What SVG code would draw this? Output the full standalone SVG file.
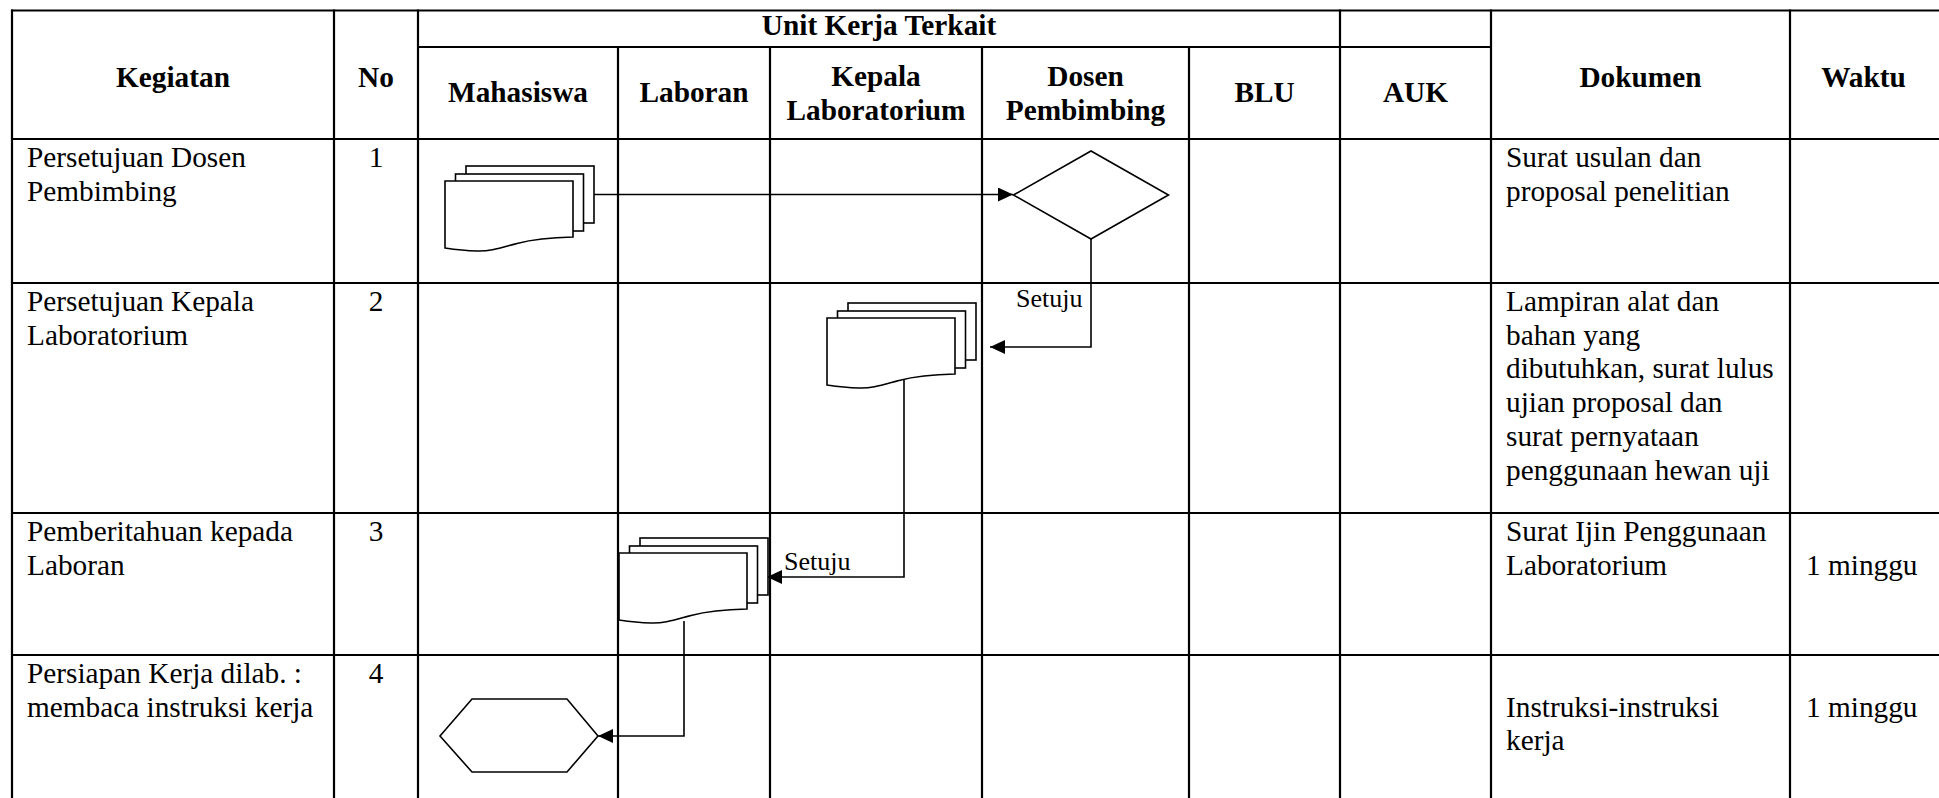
<svg xmlns="http://www.w3.org/2000/svg" width="1939" height="798" viewBox="0 0 1939 798">
  <style>
    .grid { stroke: #000; stroke-width: 2.2; fill: none; }
    .shape { stroke: #000; stroke-width: 1.6; fill: #fff; stroke-linejoin: miter; }
    .conn { stroke: #000; stroke-width: 1.6; fill: none; }
    text { font-family: "Liberation Serif", "Times New Roman", serif; fill: #000; }
    .h { font-size: 29.3px; font-weight: bold; text-anchor: middle; }
    .b { font-size: 29.3px; }
    .c { font-size: 29.3px; text-anchor: middle; }
    .lbl { font-size: 26px; }
  </style>
  <defs>
    <marker id="arrow" viewBox="0 0 10 10" refX="10" refY="5" markerUnits="userSpaceOnUse" markerWidth="15" markerHeight="14" orient="auto" preserveAspectRatio="none">
      <path d="M0,0 L10,5 L0,10 Z" fill="#000"/>
    </marker>
    <g id="docstack">
      <rect x="21" y="-15" width="128" height="57" class="shape"/>
      <rect x="10.5" y="-7" width="128" height="57" class="shape"/>
      <path d="M0,0 H128 V56 C100,56.5 85,59 72,62.5 C55,67 45,70.5 32,70 C20,69.7 10,68.5 0,67 Z" class="shape"/>
    </g>
  </defs>
  <rect width="1939" height="798" fill="#fff"/>

  <g id="table-grid" class="grid">
    <line x1="11" y1="10.5" x2="1939" y2="10.5"/>
    <line x1="418" y1="47" x2="1491" y2="47"/>
    <line x1="11" y1="139" x2="1939" y2="139"/>
    <line x1="11" y1="283" x2="1939" y2="283"/>
    <line x1="11" y1="513" x2="1939" y2="513"/>
    <line x1="11" y1="655" x2="1939" y2="655"/>
    <line x1="12" y1="9.5" x2="12" y2="798"/>
    <line x1="334" y1="9.5" x2="334" y2="798"/>
    <line x1="418" y1="9.5" x2="418" y2="798"/>
    <line x1="618" y1="47" x2="618" y2="798"/>
    <line x1="770" y1="47" x2="770" y2="798"/>
    <line x1="982" y1="47" x2="982" y2="798"/>
    <line x1="1189" y1="47" x2="1189" y2="798"/>
    <line x1="1340" y1="9.5" x2="1340" y2="798"/>
    <line x1="1491" y1="9.5" x2="1491" y2="798"/>
    <line x1="1790" y1="9.5" x2="1790" y2="798"/>
  </g>

  <g id="header">
    <text class="h" x="173" y="87">Kegiatan</text>
    <text class="h" x="376" y="87">No</text>
    <text class="h" x="879" y="35">Unit Kerja Terkait</text>
    <text class="h" x="518" y="102">Mahasiswa</text>
    <text class="h" x="694" y="102">Laboran</text>
    <text class="h" x="876" y="86">Kepala</text>
    <text class="h" x="876" y="120">Laboratorium</text>
    <text class="h" x="1085.5" y="86">Dosen</text>
    <text class="h" x="1085.5" y="120">Pembimbing</text>
    <text class="h" x="1264.5" y="102">BLU</text>
    <text class="h" x="1415.5" y="102">AUK</text>
    <text class="h" x="1640.5" y="87">Dokumen</text>
    <text class="h" x="1863.5" y="87">Waktu</text>
  </g>

  <g id="row1-text">
    <text class="b" x="27" y="167">Persetujuan Dosen</text>
    <text class="b" x="27" y="200.7">Pembimbing</text>
    <text class="c" x="376" y="167">1</text>
    <text class="b" x="1506" y="167">Surat usulan dan</text>
    <text class="b" x="1506" y="200.7">proposal penelitian</text>
  </g>
  <g id="row2-text">
    <text class="b" x="27" y="311">Persetujuan Kepala</text>
    <text class="b" x="27" y="344.7">Laboratorium</text>
    <text class="c" x="376" y="311">2</text>
    <text class="b" x="1506" y="311">Lampiran alat dan</text>
    <text class="b" x="1506" y="344.7">bahan yang</text>
    <text class="b" x="1506" y="378.4">dibutuhkan, surat lulus</text>
    <text class="b" x="1506" y="412.1">ujian proposal dan</text>
    <text class="b" x="1506" y="445.8">surat pernyataan</text>
    <text class="b" x="1506" y="479.5">penggunaan hewan uji</text>
  </g>
  <g id="row3-text">
    <text class="b" x="27" y="541">Pemberitahuan kepada</text>
    <text class="b" x="27" y="574.7">Laboran</text>
    <text class="c" x="376" y="541">3</text>
    <text class="b" x="1506" y="541">Surat Ijin Penggunaan</text>
    <text class="b" x="1506" y="574.7">Laboratorium</text>
    <text class="b" x="1806" y="574.7">1 minggu</text>
  </g>
  <g id="row4-text">
    <text class="b" x="27" y="683">Persiapan Kerja dilab. :</text>
    <text class="b" x="27" y="716.7">membaca instruksi kerja</text>
    <text class="c" x="376" y="683">4</text>
    <text class="b" x="1506" y="716.7">Instruksi-instruksi</text>
    <text class="b" x="1506" y="750.4">kerja</text>
    <text class="b" x="1806" y="716.7">1 minggu</text>
  </g>

  <g id="connectors">
    <path class="conn" d="M593,194.5 H1013" marker-end="url(#arrow)"/>
    <path class="conn" d="M1091,239 V347 H990" marker-end="url(#arrow)"/>
    <path class="conn" d="M904,380 V577 H767" marker-end="url(#arrow)"/>
    <path class="conn" d="M684,621 V736 H598" marker-end="url(#arrow)"/>
    <text class="lbl" x="1016" y="307">Setuju</text>
    <text class="lbl" x="784" y="570">Setuju</text>
  </g>

  <g id="node-doc-mahasiswa">
    <use href="#docstack" transform="translate(445,181)"/>
  </g>
  <g id="node-decision-dosen">
    <polygon class="shape" points="1013.5,195 1091,151 1168.5,195 1091,239"/>
  </g>
  <g id="node-doc-kepala">
    <use href="#docstack" transform="translate(827,318)"/>
  </g>
  <g id="node-doc-laboran">
    <use href="#docstack" transform="translate(619,553)"/>
  </g>
  <g id="node-prep-mahasiswa">
    <polygon class="shape" points="440,736 472,699 567,699 598,736 567,772 472,772"/>
  </g>
</svg>
